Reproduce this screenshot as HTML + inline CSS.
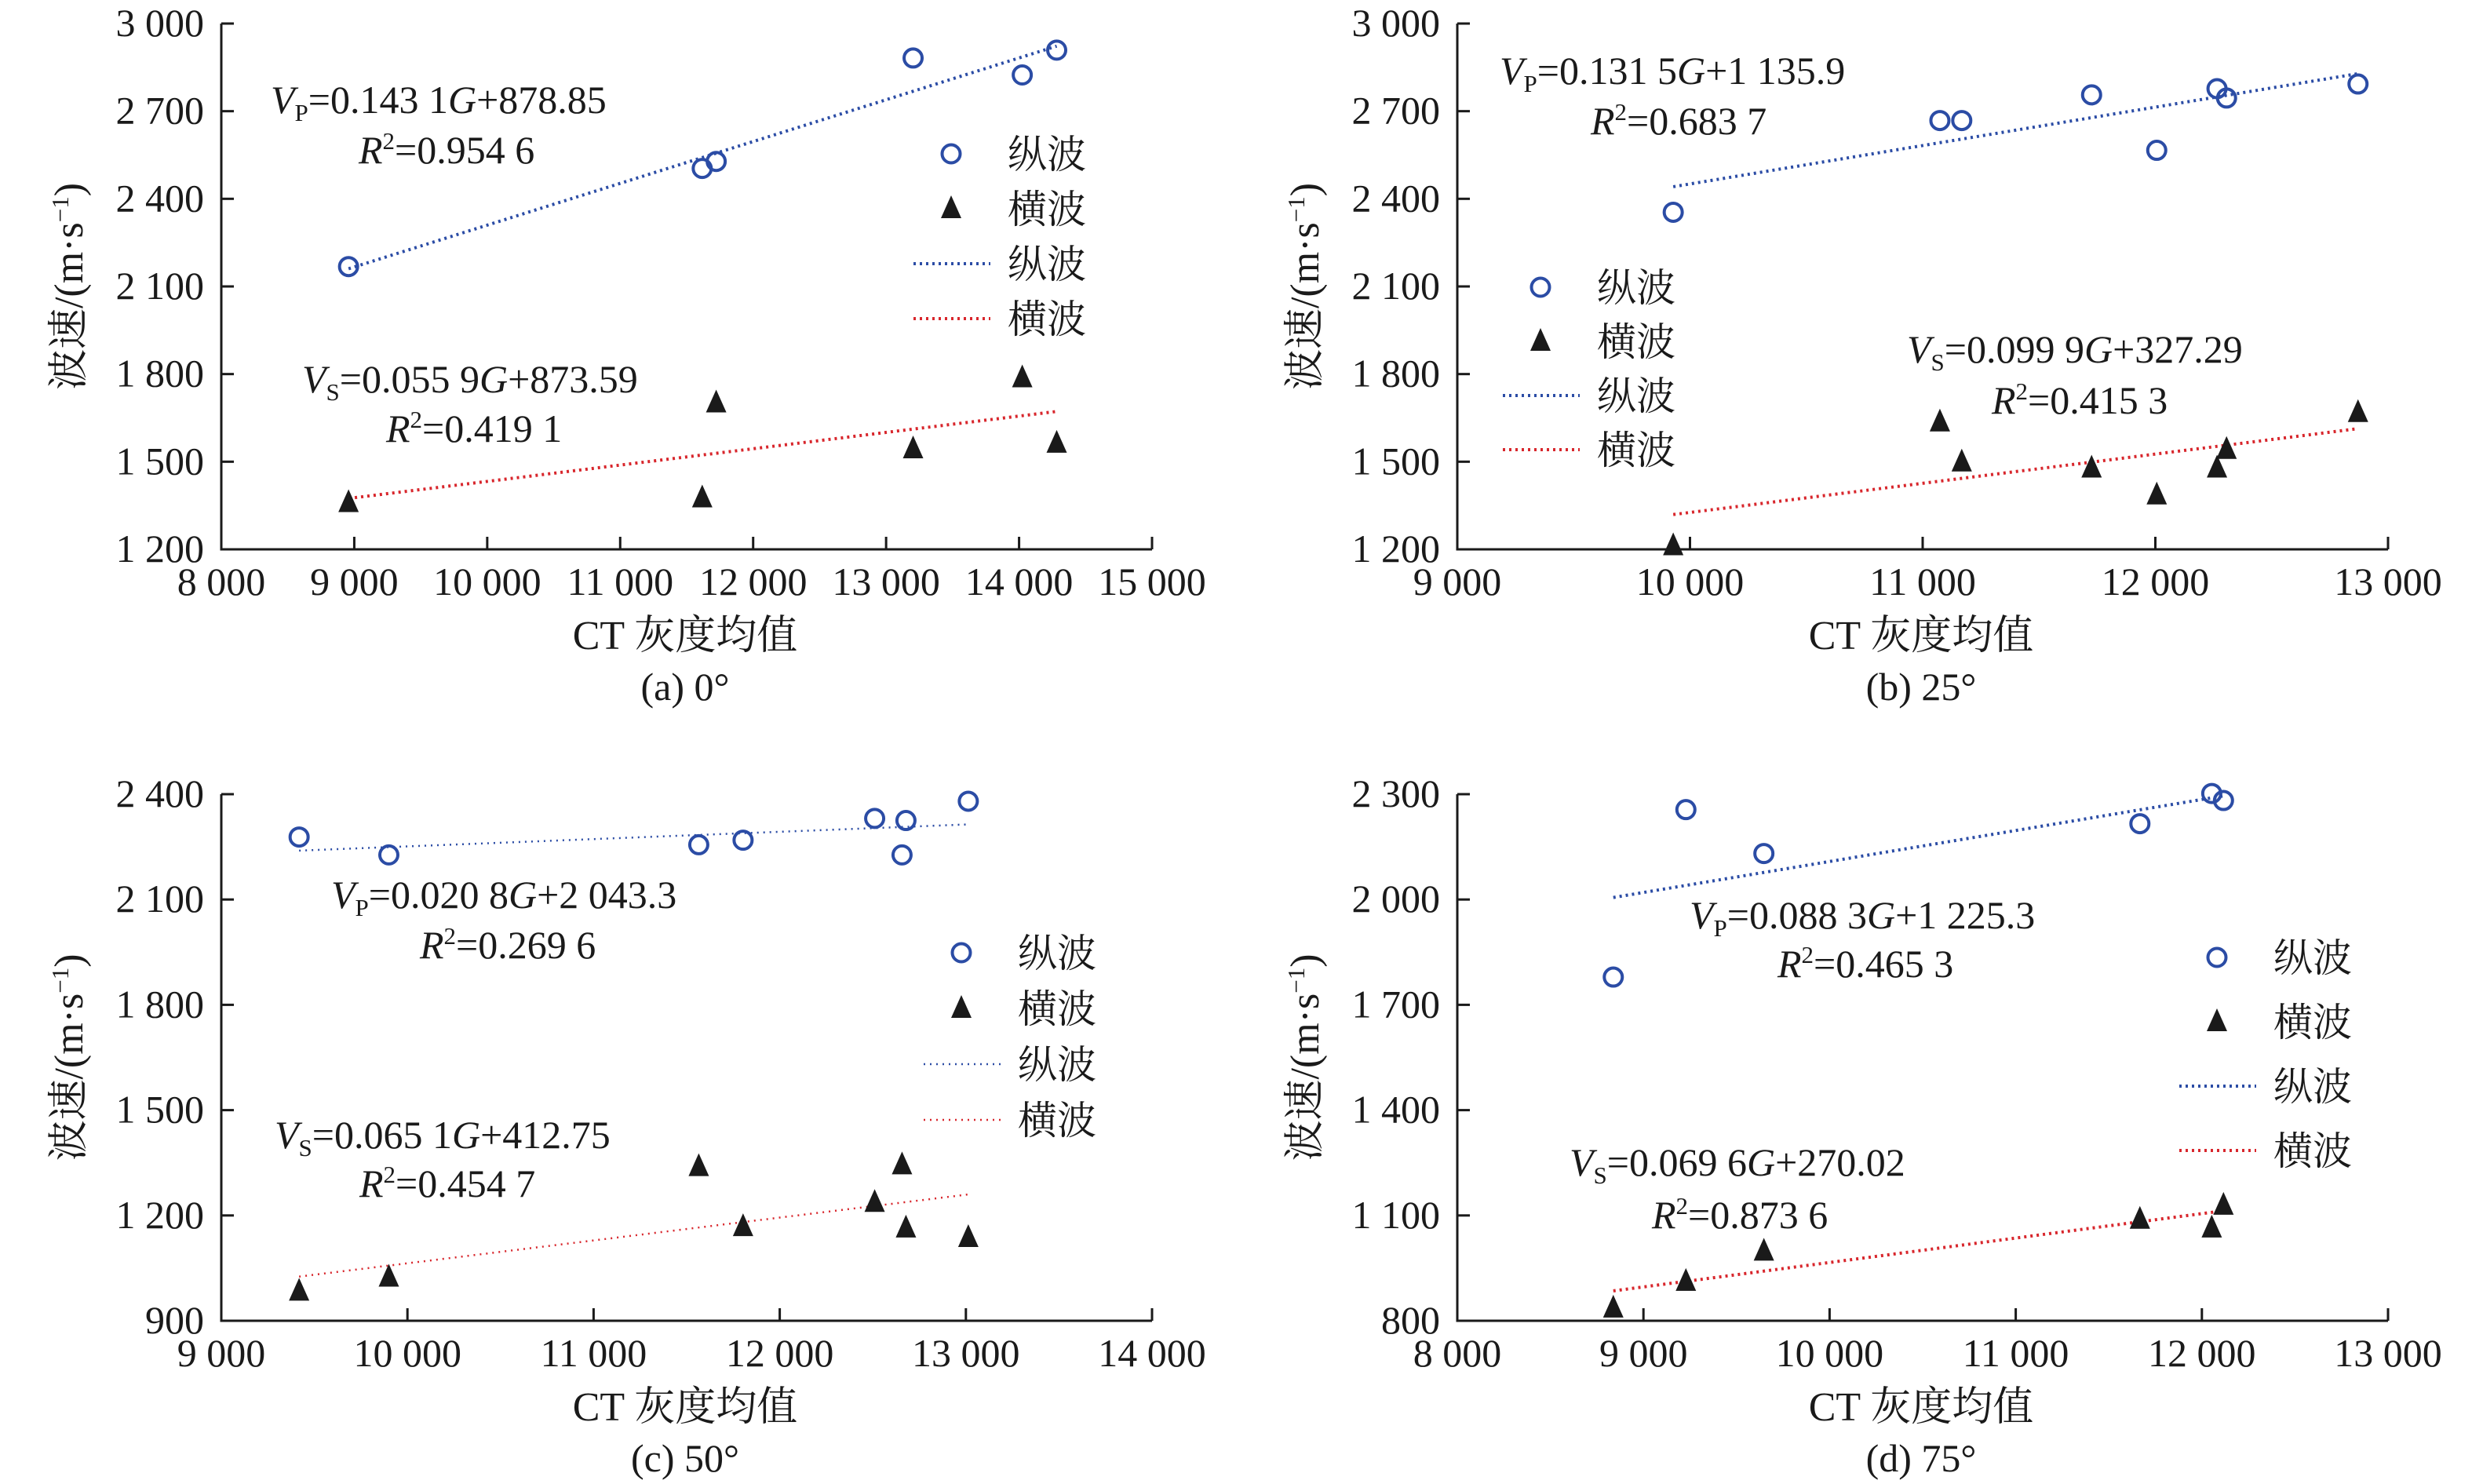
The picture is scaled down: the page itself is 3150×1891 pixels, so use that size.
<!DOCTYPE html>
<html><head><meta charset="utf-8"><style>
html,body{margin:0;padding:0;background:#fff;}
svg{display:block;}
text{font-family:"Liberation Serif","Noto Serif CJK SC","Noto Sans CJK SC",serif;fill:#1a1a1a;}
</style></head><body>
<svg id="fig" width="3150" height="1891" viewBox="0 0 3150 1891" xmlns="http://www.w3.org/2000/svg"></svg>
<script>
// Panel (a) 0°
const aGP=[8957,11617,11722,13203,14024,14283];
const aVP=[2168,2504,2528,2882,2824,2909];
const aGS=[8957,11617,11722,13203,14024,14283];
const aVS=[1360,1376,1701,1544,1787,1563];
const aFitP=[0.1431,878.85];
const aFitS=[0.0559,873.59];
const aXTicks=[8000,9000,10000,11000,12000,13000,14000,15000];
const aYTicks=[1200,1500,1800,2100,2400,2700,3000];
// Panel (b) 25°
const bGP=[9928,11074,11168,11726,12006,12265,12306,12871];
const bVP=[2354,2668,2668,2756,2566,2777,2745,2793];
const bGS=[9928,11074,11168,11726,12006,12265,12306,12871];
const bVS=[1212,1636,1499,1478,1386,1478,1542,1668];
const bFitP=[0.1315,1135.9];
const bFitS=[0.0999,327.29];
const bXTicks=[9000,10000,11000,12000,13000];
const bYTicks=[1200,1500,1800,2100,2400,2700,3000];
// Panel (c) 50°
const cGP=[9418,9900,11565,11803,12510,12678,12657,13013];
const cVP=[2278,2227,2256,2269,2331,2325,2227,2380];
const cGS=[9418,9900,11565,11803,12510,12657,12678,13013];
const cVS=[984,1024,1339,1168,1237,1344,1164,1137];
const cFitP=[0.0208,2043.3];
const cFitS=[0.0651,412.75];
const cXTicks=[9000,10000,11000,12000,13000,14000];
const cYTicks=[900,1200,1500,1800,2100,2400];
// Panel (d) 75°
const dGP=[8838,9228,9647,11667,12053,12116];
const dVP=[1779,2256,2131,2216,2302,2282];
const dGS=[8838,9228,9647,11667,12053,12116];
const dVS=[836,912,998,1089,1064,1129];
const dFitP=[0.0883,1225.3];
const dFitS=[0.0696,270.02];
const dXTicks=[8000,9000,10000,11000,12000,13000];
const dYTicks=[800,1100,1400,1700,2000,2300];

const NS="http://www.w3.org/2000/svg";
const svg=document.getElementById('fig');
function mk(tag,attrs,parent){const e=document.createElementNS(NS,tag);for(const k in attrs)e.setAttribute(k,attrs[k]);(parent||svg).appendChild(e);return e;}
function fmt(v){const s=String(v);return s.length>3?s.slice(0,s.length-3)+' '+s.slice(-3):s;}

function panel(o){
  const g=mk('g',{});
  
  
  const x0=o.ox+282,x1=o.ox+1468,y0=o.oy+o.yTop,y1=o.oy+o.yBot;
  const xmin=o.xt[0],xmax=o.xt[o.xt.length-1],ymin=o.yt[0],ymax=o.yt[o.yt.length-1];
  const X=v=>x0+(v-xmin)/(xmax-xmin)*(x1-x0);
  const Y=v=>y1-(v-ymin)/(ymax-ymin)*(y1-y0);
  const ax=mk('path',{d:`M${x0},${y0} V${y1} H${x1}`,stroke:'#1a1a1a','stroke-width':3,fill:'none'},g);
  
  
  o.xt.forEach(t=>{
    const l=mk('line',{x1:X(t),x2:X(t),y1:y1,y2:y1-16,stroke:'#1a1a1a','stroke-width':3},g);
    
    
    const tx=mk('text',{x:X(t),y:y1+58,'font-size':50,'text-anchor':'middle'},g);
    tx.textContent=fmt(t);
    
    
  });
  o.yt.forEach(t=>{
    const l=mk('line',{x1:x0,x2:x0+16,y1:Y(t),y2:Y(t),stroke:'#1a1a1a','stroke-width':3},g);
    
    
    const tx=mk('text',{x:x0-22,y:Y(t)+16,'font-size':50,'text-anchor':'end'},g);
    tx.textContent=fmt(t);
    
    
  });
  const fit=(G,f,col,nm)=>{
    const a=Math.min(...G),b=Math.max(...G);
    const l=mk('line',{x1:X(a),y1:Y(f[0]*a+f[1]),x2:X(b),y2:Y(f[0]*b+f[1]),stroke:col,'stroke-width':o.thin?2.5:4,'stroke-dasharray':o.thin?'2 6':'3 5'},g);
    
    
  };
  fit(o.gp,o.fp,'#2b4ca5','p-wave-fit-line');
  fit(o.gs,o.fs,'#d8262c','s-wave-fit-line');
  o.gp.forEach((gv,i)=>{
    const c=mk('circle',{cx:X(gv),cy:Y(o.vp[i]),r:11.5,fill:'none',stroke:'#2b4ca5','stroke-width':4},g);
    
    
  });
  o.gs.forEach((gv,i)=>{
    const cx=X(gv),cy=Y(o.vs[i]);
    const p=mk('path',{d:`M${cx},${cy-17} L${cx+13},${cy+12} L${cx-13},${cy+12}Z`,fill:'#1a1a1a'},g);
    
    
  });
  const L=o.leg, lx=o.ox+L[0], ly=o.oy+L[1], dy=L[2];
  const lg=mk('g',{},g);
  
  
  mk('circle',{cx:lx,cy:ly,r:11.5,fill:'none',stroke:'#2b4ca5','stroke-width':4},lg);
  mk('path',{d:`M${lx},${ly+dy-17} L${lx+13},${ly+dy+12} L${lx-13},${ly+dy+12}Z`,fill:'#1a1a1a'},lg);
  mk('line',{x1:lx-48,x2:lx+50,y1:ly+2*dy,y2:ly+2*dy,stroke:'#2b4ca5','stroke-width':o.thin?2.5:4,'stroke-dasharray':o.thin?'2 6':'3 5'},lg);
  mk('line',{x1:lx-48,x2:lx+50,y1:ly+3*dy,y2:ly+3*dy,stroke:'#d8262c','stroke-width':o.thin?2.5:4,'stroke-dasharray':o.thin?'2 6':'3 5'},lg);
  ['纵波','横波','纵波','横波'].forEach((s,i)=>{
    const t=mk('text',{x:lx+72,y:ly+i*dy+18,'font-size':50},lg);
    t.textContent=s;
    
    
  });
  const eq=(x,y,sub,body,rest,nm)=>{
    const t=mk('text',{x:o.ox+x,y:o.oy+y,'font-size':50},g);
    
    
    t.innerHTML=`<tspan font-style="italic">V</tspan><tspan font-size="31" dy="10">${sub}</tspan><tspan dy="-10">=${body}</tspan><tspan font-style="italic">G</tspan><tspan>${rest}</tspan>`;
  };
  const r2=(x,y,val,nm)=>{
    const t=mk('text',{x:o.ox+x,y:o.oy+y,'font-size':50},g);
    
    
    t.innerHTML=`<tspan font-style="italic">R</tspan><tspan font-size="31" dy="-18">2</tspan><tspan dy="18">=${val}</tspan>`;
  };
  eq(o.eP[0],o.eP[1],'P',o.eP[2],o.eP[3],'p-wave-equation');
  r2(o.rP[0],o.rP[1],o.rP[2],'p-wave-r2');
  eq(o.eS[0],o.eS[1],'S',o.eS[2],o.eS[3],'s-wave-equation');
  r2(o.rS[0],o.rS[1],o.rS[2],'s-wave-r2');
  const cx=o.ox+873;
  const xt=mk('text',{x:cx,y:o.oy+o.yBot+127,'font-size':52,'text-anchor':'middle'},g);
  xt.textContent='CT 灰度均值';
  
  
  const cap=mk('text',{x:cx,y:o.oy+o.yBot+192,'font-size':50,'text-anchor':'middle'},g);
  cap.textContent=o.cap;
  
  
  const yc=(y0+y1)/2;
  const yt=mk('text',{x:0,y:0,'font-size':52,'text-anchor':'middle',transform:`translate(${o.ox+105},${yc}) rotate(-90)`},g);
  yt.innerHTML='波速/(m·s<tspan font-size="31" dy="-18">−1</tspan><tspan dy="18">)</tspan>';
  
  
}

panel({name:'panel-a',ox:0,oy:0,yTop:30,yBot:700,xt:aXTicks,yt:aYTicks,gp:aGP,vp:aVP,gs:aGS,vs:aVS,fp:aFitP,fs:aFitS,
  leg:[1212,196,70],eP:[345,144,'0.143 1','+878.85'],rP:[457,208,'0.954 6'],eS:[385,500,'0.055 9','+873.59'],rS:[492,563,'0.419 1'],cap:'(a) 0°'});
panel({name:'panel-b',ox:1575,oy:0,yTop:30,yBot:700,xt:bXTicks,yt:bYTicks,gp:bGP,vp:bVP,gs:bGS,vs:bVS,fp:bFitP,fs:bFitS,
  leg:[388,366,69],eP:[336,107,'0.131 5','+1 135.9'],rP:[452,171,'0.683 7'],eS:[855,462,'0.099 9','+327.29'],rS:[963,527,'0.415 3'],cap:'(b) 25°'});
panel({name:'panel-c',ox:0,oy:945,yTop:67,yBot:738,xt:cXTicks,yt:cYTicks,gp:cGP,vp:cVP,gs:cGS,vs:cVS,fp:cFitP,fs:cFitS,thin:true,
  leg:[1225,269,71],eP:[422,212,'0.020 8','+2 043.3'],rP:[535,276,'0.269 6'],eS:[350,518,'0.065 1','+412.75'],rS:[458,580,'0.454 7'],cap:'(c) 50°'});
panel({name:'panel-d',ox:1575,oy:945,yTop:67,yBot:738,xt:dXTicks,yt:dYTicks,gp:dGP,vp:dVP,gs:dGS,vs:dVS,fp:dFitP,fs:dFitS,
  leg:[1250,275,82],eP:[578,238,'0.088 3','+1 225.3'],rP:[690,300,'0.465 3'],eS:[425,553,'0.069 6','+270.02'],rS:[530,620,'0.873 6'],cap:'(d) 75°'});
</script>
</body></html>
